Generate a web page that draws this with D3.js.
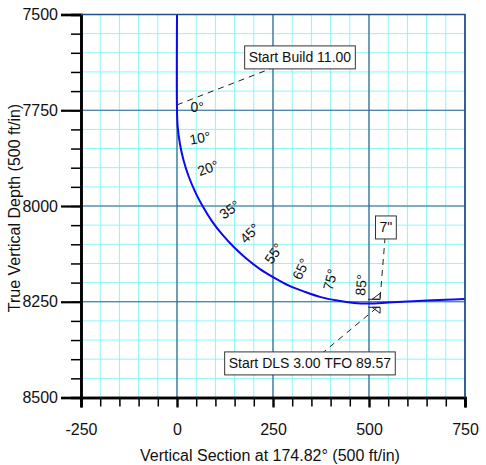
<!DOCTYPE html>
<html>
<head>
<meta charset="utf-8">
<script src="https://cdn.jsdelivr.net/npm/d3@7"></script>
<style>
    body { margin: 0; background: #fff; }
    text { font-family: "Liberation Sans", Arial, sans-serif; fill: #111; }
</style>
</head>
<body>
<div id="chart"></div>
<script>
// Chart values
const vsTicks = [-250, 0, 250, 500, 750];
const tvdTicks = [7500, 7750, 8000, 8250, 8500];

// Well path (vertical section, true vertical depth)
const pathVS = [0, 0, 1.9, 7.7, 17.2, 30.5, 47.3, 67.7, 91.3, 118.2, 147.9, 180.4, 215.3, 252.5, 291.6, 332.3, 374.3, 417.3, 461, 500, 550, 600, 650, 700, 750];
const pathTVD = [7500, 7750, 7794, 7838, 7881, 7923, 7963, 8002, 8040, 8075, 8107, 8137, 8164, 8187, 8208, 8224, 8238, 8247, 8253, 8254.5, 8252, 8249.5, 8247, 8245, 8243];

// Inclination labels along the build
const incValues = [0, 10, 20, 35, 45, 55, 65, 75, 85];
const incVS = [0, 7.7, 30.5, 91.3, 147.9, 215.3, 291.6, 374.3, 461];
const incTVD = [7750, 7838, 7923, 8040, 8107, 8164, 8208, 8238, 8253];

// Annotations: text, anchor point, label centre
const noteText = ["Start Build 11.00", "Start DLS 3.00 TFO 89.57", "7\""];
const noteAnchorVS = [0, 520, 529];
const noteAnchorTVD = [7736, 8266, 8240];
const noteLabelVS = [320, 346, 544];
const noteLabelTVD = [7612, 8411, 8056];

// Casing shoe
const casingVS = 529;
const casingTVD = 8254;

function init() {
    const width = 486;
    const height = 465;
    const margin = { top: 14.5, right: 21, bottom: 67.5, left: 81 };

    const svg = d3.select("#chart")
        .append("svg")
        .attr("width", width)
        .attr("height", height);

    const x = d3.scaleLinear().domain([-250, 750]).range([margin.left, width - margin.right]);
    const y = d3.scaleLinear().domain([7500, 8500]).range([margin.top, height - margin.bottom]);

    // minor grid (every 50)
    const minorX = x.ticks(20), minorY = y.ticks(20);
    svg.append("g").selectAll("line").data(minorX).enter().append("line")
        .attr("x1", d => x(d)).attr("x2", d => x(d))
        .attr("y1", y(7500)).attr("y2", y(8500))
        .attr("stroke", "#8cf6f8").attr("stroke-width", 1);
    svg.append("g").selectAll("line").data(minorY).enter().append("line")
        .attr("y1", d => y(d)).attr("y2", d => y(d))
        .attr("x1", x(-250)).attr("x2", x(750))
        .attr("stroke", "#8cf6f8").attr("stroke-width", 1);

    // major grid
    svg.append("g").selectAll("line").data(vsTicks).enter().append("line")
        .attr("x1", d => x(d)).attr("x2", d => x(d))
        .attr("y1", y(7500)).attr("y2", y(8500))
        .attr("stroke", "#35608f").attr("stroke-width", 1.2);
    svg.append("g").selectAll("line").data(tvdTicks).enter().append("line")
        .attr("y1", d => y(d)).attr("y2", d => y(d))
        .attr("x1", x(-250)).attr("x2", x(750))
        .attr("stroke", "#35608f").attr("stroke-width", 1.2);

    // left axis
    const yMinor = svg.append("g")
        .attr("transform", `translate(${x(-250)},0)`)
        .call(d3.axisLeft(y).tickValues(minorY).tickSize(10).tickFormat(""));
    const yMajor = svg.append("g")
        .attr("transform", `translate(${x(-250)},0)`)
        .call(d3.axisLeft(y).tickValues(tvdTicks).tickSize(20).tickPadding(3).tickFormat(d => String(d)));
    [yMinor, yMajor].forEach(g => {
        g.select(".domain").attr("stroke", "#000").attr("stroke-width", 2.5);
        g.selectAll(".tick line").attr("stroke", "#000").attr("stroke-width", 1.5);
    });
    yMajor.selectAll(".tick line").attr("stroke-width", 2.2);
    yMajor.selectAll("text").attr("font-size", 16).attr("fill", "#111");

    // bottom axis
    const xMinor = svg.append("g")
        .attr("transform", `translate(0,${y(8500)})`)
        .call(d3.axisBottom(x).tickValues(minorX).tickSize(9).tickFormat(""));
    const xMajor = svg.append("g")
        .attr("transform", `translate(0,${y(8500)})`)
        .call(d3.axisBottom(x).tickValues(vsTicks).tickSize(10).tickPadding(16).tickFormat(d => String(d)));
    [xMinor, xMajor].forEach(g => {
        g.select(".domain").attr("stroke", "#000").attr("stroke-width", 2.5);
        g.selectAll(".tick line").attr("stroke", "#000").attr("stroke-width", 1.5);
    });
    xMajor.selectAll(".tick line").attr("stroke-width", 2.2);
    xMajor.selectAll("text").attr("font-size", 16).attr("fill", "#111");

    // axis titles
    svg.append("text")
        .attr("x", (x(-250) + x(750)) / 2 - 3)
        .attr("y", 461)
        .attr("text-anchor", "middle")
        .attr("font-size", 16)
        .text("Vertical Section at 174.82° (500 ft/in)");
    svg.append("text")
        .attr("transform", `translate(19.5,${(y(7500) + y(8500)) / 2 + 2}) rotate(-90)`)
        .attr("text-anchor", "middle")
        .attr("font-size", 16)
        .text("True Vertical Depth (500 ft/in)");

    // clip for the well path
    svg.append("clipPath").attr("id", "plotclip")
        .append("rect")
        .attr("x", x(-250)).attr("y", y(7500))
        .attr("width", x(750) - x(-250)).attr("height", y(8500) - y(7500));

    // annotation leaders
    const notes = noteText.map((t, i) => ({
        text: t,
        ax: x(noteAnchorVS[i]), ay: y(noteAnchorTVD[i]),
        lx: x(noteLabelVS[i]), ly: y(noteLabelTVD[i])
    }));
    svg.append("g").selectAll("line").data(notes).enter().append("line")
        .attr("x1", d => d.ax).attr("y1", d => d.ay)
        .attr("x2", d => d.lx).attr("y2", d => d.ly)
        .attr("stroke", "#222").attr("stroke-width", 1)
        .attr("stroke-dasharray", "6,5");

    // casing shoe
    const cx = x(casingVS), cy = y(casingTVD);
    svg.append("path")
        .attr("transform", `translate(${cx},${cy})`)
        .attr("d", "M-12,-4L0,-4M0,-10L-8,-4L0,-4Z M-12,4L0,4M0,10L-8,4L0,4Z")
        .attr("fill", "none").attr("stroke", "#222").attr("stroke-width", 1);

    // well path
    const line = d3.line()
        .x((d, i) => x(pathVS[i]))
        .y((d, i) => y(pathTVD[i]))
        .curve(d3.curveCatmullRom);
    svg.append("path")
        .attr("clip-path", "url(#plotclip)")
        .attr("d", line(pathVS))
        .attr("fill", "none")
        .attr("stroke", "#0a0aee")
        .attr("stroke-width", 2);

    // frame top/right
    svg.append("path")
        .attr("d", `M${x(-250)},${y(7500)}H${x(750)}V${y(8500)}`)
        .attr("fill", "none").attr("stroke", "#1f4f86").attr("stroke-width", 1.5);

    // inclination labels
    incValues.forEach((inc, i) => {
        const t = inc * Math.PI / 180;
        const px = x(incVS[i]) + 14.5 * Math.cos(t) + 5.7;
        const py = y(incTVD[i]) - 14.5 * Math.sin(t) - 3.5;
        svg.append("text")
            .attr("transform", `translate(${px},${py}) rotate(${-inc})`)
            .attr("text-anchor", "middle")
            .attr("dominant-baseline", "central")
            .attr("font-size", 14)
            .text(inc + "°");
    });

    // annotation boxes
    const boxes = svg.append("g").selectAll("g").data(notes).enter().append("g")
        .attr("transform", d => `translate(${d.lx},${d.ly})`);
    const labels = boxes.append("text")
        .attr("text-anchor", "middle")
        .attr("dominant-baseline", "central")
        .attr("font-size", 14)
        .text(d => d.text);
    labels.each(function () {
        const bb = this.getBBox();
        d3.select(this.parentNode).insert("rect", "text")
            .attr("x", bb.x - 4).attr("y", -11.5)
            .attr("width", bb.width + 8).attr("height", 23)
            .attr("fill", "#fff").attr("stroke", "#333").attr("stroke-width", 1);
    });
}

window.onload = init;
</script>
</body>
</html>
